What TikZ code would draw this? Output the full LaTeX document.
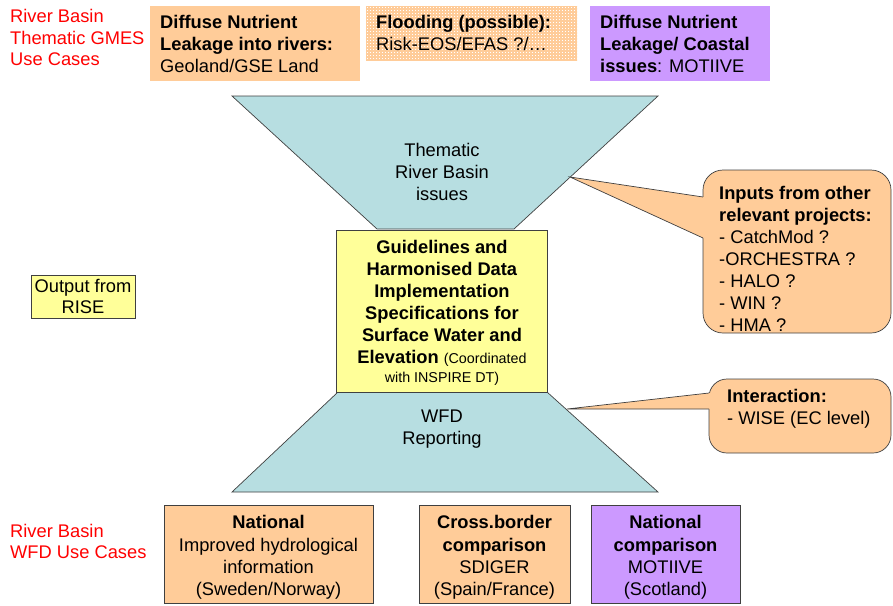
\documentclass[tikz,border=0pt]{standalone}
\usepackage{fontspec}
\setmainfont{Liberation Sans}
\definecolor{boxorange}{HTML}{FFCC99}
\definecolor{boxpurple}{HTML}{CC99FF}
\definecolor{funnel}{HTML}{B7DEE1}
\definecolor{boxyellow}{HTML}{FFFF99}
\definecolor{edge}{HTML}{404040}
\begin{document}
\begin{tikzpicture}[x=1pt,y=-1pt,
  font=\fontsize{18.3}{21.9}\selectfont,
  txt/.style={inner sep=0pt, align=left, anchor=west},
  ctxt/.style={inner sep=0pt, align=center},
  redtxt/.style={txt, text={rgb,255:red,255;green,0;blue,0}},
  funnelshape/.style={fill=funnel, draw=edge, line width=0.7pt},
  callout/.style={fill=boxorange, draw=edge, line width=0.7pt},
  framed/.style={draw=edge, line width=0.7pt}]
\useasboundingbox (0,0) rectangle (893,605);

% red labels
\node[redtxt, font=\fontsize{18.3}{21.5}\selectfont] (lblTop) at (10,37.5) {River Basin\\Thematic GMES\\Use Cases};
\node[redtxt, font=\fontsize{18.3}{21.5}\selectfont] (lblBot) at (10,541.5) {River Basin\\WFD Use Cases};

% top boxes
\fill[boxorange] (150,6) rectangle (360,81);
\node[txt] (top1) at (160,44) {\textbf{Diffuse Nutrient}\\\textbf{Leakage into rivers:}\\Geoland/GSE Land};

\begin{scope}
\clip (366,6) rectangle (577,60);
\fill[white] (366,6) rectangle (577,60);
\draw[boxorange, line width=1.8pt, step=3pt] (360,0) grid (580,63);
\end{scope}
\node[txt] (top2) at (376,33) {\textbf{Flooding (possible):}\\Risk-EOS/EFAS ?/…};

\fill[boxpurple] (590,6) rectangle (770,81);
\node[txt] (top3) at (600,44) {\textbf{Diffuse Nutrient}\\\textbf{Leakage/ Coastal}\\\textbf{issues}: MOTIIVE};

% funnels
\draw[funnelshape] (232,96) -- (658,96) -- (514,229) -- (377,229) -- cycle;
\node[ctxt] (thematic) at (442,172) {Thematic\\River Basin\\issues};
\draw[funnelshape] (338,392) -- (547,392) -- (658,492) -- (232,492) -- cycle;
\node[ctxt] (wfd) at (442,429) {WFD\\Reporting};

% central box
\draw[framed, fill=boxyellow] (336,230) rectangle (547,392);
\node[ctxt] (guide) at (442,313) {\textbf{Guidelines and}\\\textbf{Harmonised Data}\\\textbf{Implementation}\\\textbf{Specifications for}\\\textbf{Surface Water and}\\\textbf{Elevation} {\fontsize{14.3}{16}\selectfont (Coordinated}\\[-3pt]{\fontsize{14.3}{16}\selectfont with INSPIRE DT)}};

% output from RISE
\node[framed, fill=boxyellow, minimum width=104pt, minimum height=43pt, inner sep=0pt, align=center] (rise) at (83,296.5) {Output from\\RISE};

% callout 1
\draw[callout, rounded corners=20pt] (703,170) rectangle (891,333);
\coordinate (tip1) at (570,177);
\coordinate (j1a) at (703,197);
\coordinate (j1b) at (703,238);
\fill[boxorange] (j1a) -- (tip1) -- (j1b) -- (707,238) -- (707,197) -- cycle;
\draw[edge, line width=0.7pt] (j1a) -- (tip1) -- (j1b);
\node[txt] (inputs) at (719,259) {\textbf{Inputs from other}\\\textbf{relevant projects:}\\- CatchMod ?\\-ORCHESTRA ?\\- HALO ?\\- WIN ?\\- HMA ?};

% callout 2
\draw[callout, rounded corners=18pt] (709,379) rectangle (891,453);
\coordinate (tip2) at (567,409);
\coordinate (j2a) at (709,393);
\coordinate (j2b) at (709,409);
\fill[boxorange] (j2a) -- (tip2) -- (j2b) -- (713,409) -- (713,393) -- cycle;
\draw[edge, line width=0.7pt] (j2a) -- (tip2) -- (j2b);
\node[txt] (inter) at (727,409) {\textbf{Interaction:}\\- WISE (EC level)};

% bottom boxes
\begin{scope}[font=\fontsize{18.3}{22.4}\selectfont]
\draw[framed, fill=boxorange] (164,505) rectangle (373,603.5);
\node[ctxt] (bot1) at (268.5,557.5) {\textbf{National}\\Improved hydrological\\information\\(Sweden/Norway)};
\draw[framed, fill=boxorange] (419,505) rectangle (570,603.5);
\node[ctxt] (bot2) at (494.5,557.5) {\textbf{Cross.border}\\\textbf{comparison}\\SDIGER\\(Spain/France)};
\draw[framed, fill=boxpurple] (591,505) rectangle (740,603.5);
\node[ctxt] (bot3) at (665.5,557.5) {\textbf{National}\\\textbf{comparison}\\MOTIIVE\\(Scotland)};
\end{scope}
\end{tikzpicture}
\end{document}
